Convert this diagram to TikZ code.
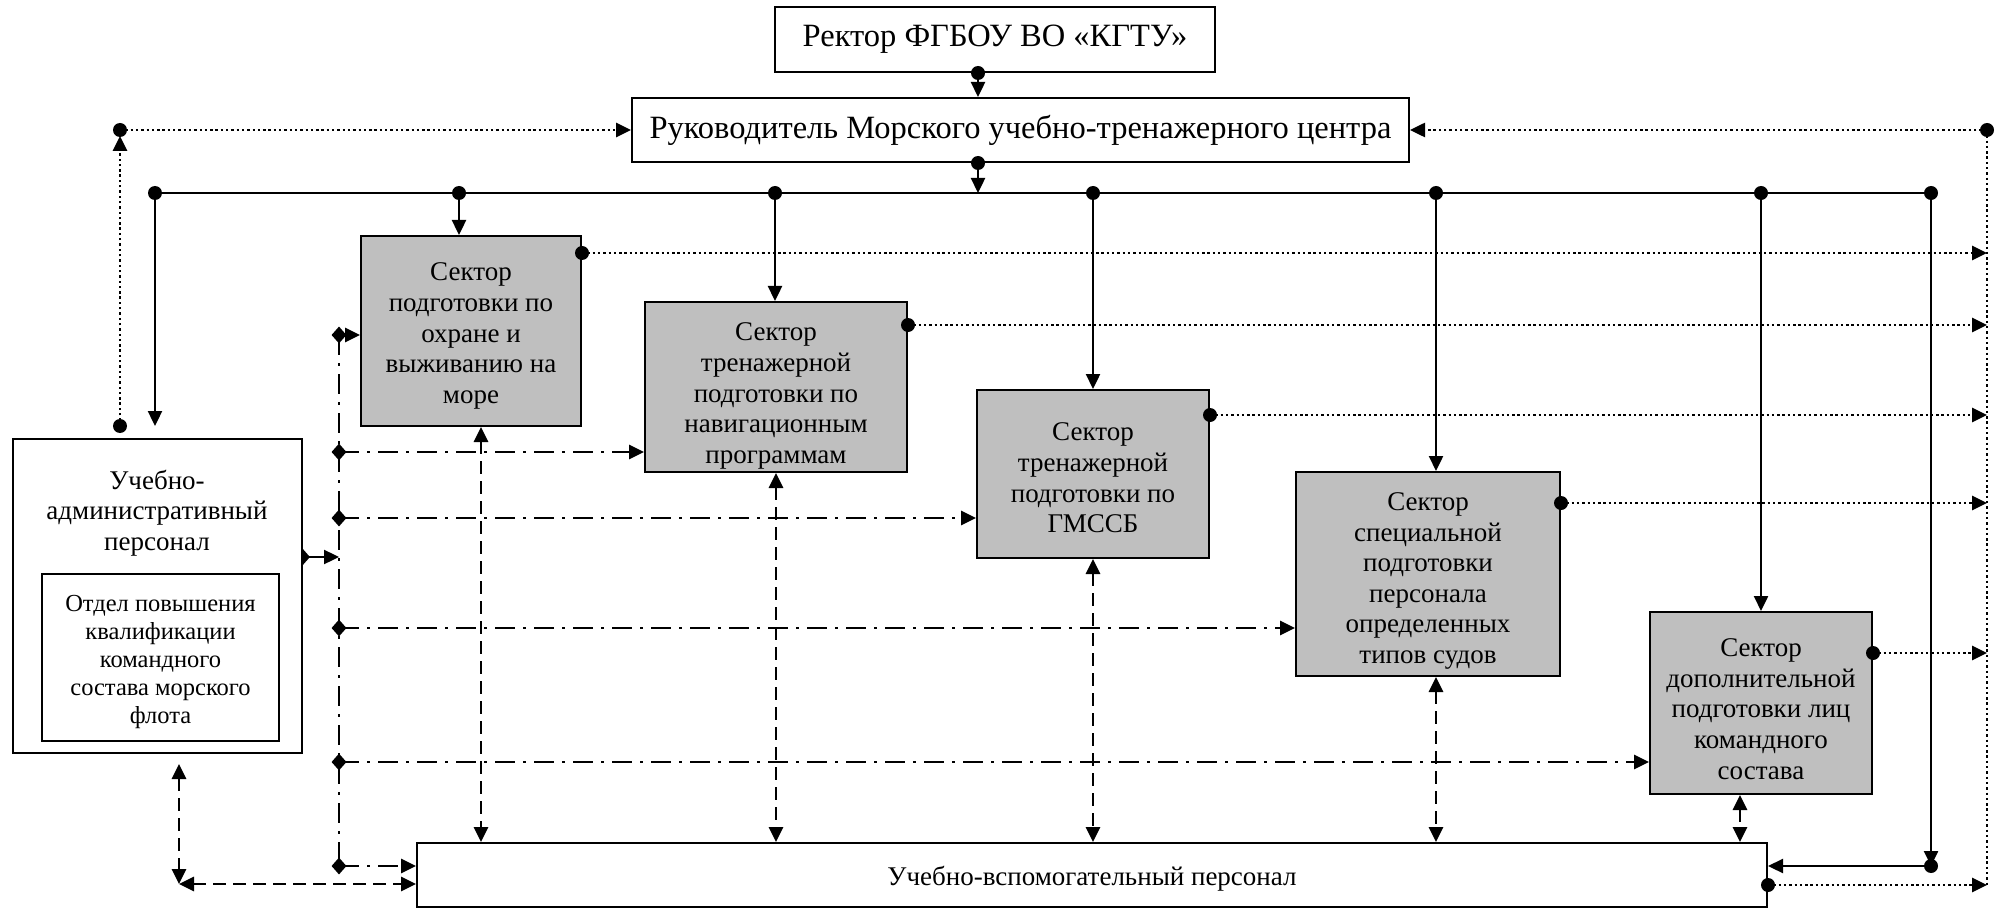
\documentclass[tikz,border=0pt]{standalone}
\usepackage{fontspec}
\setmainfont{Liberation Serif}
\usetikzlibrary{arrows.meta,shapes.geometric,calc}
\definecolor{secgray}{RGB}{191,191,191}
\begin{document}
\begin{tikzpicture}[x=1pt,y=-1pt,
  box/.style={draw, line width=2pt, inner sep=0pt, align=center, font=\fontsize{27}{30.6}\selectfont},
  sec/.style={box, fill=secgray},
  txt/.style={align=center, inner sep=0pt, font=\fontsize{27}{30.6}\selectfont},
  tip/.style={-{Triangle[length=15pt,width=14pt]}},
  solidc/.style={line width=2.4pt, tip},
  dotline/.style={line width=2.6pt, dash pattern=on 2.4pt off 2.9pt},
  dotc/.style={dotline, tip},
  dashc/.style={line width=2.8pt, dash pattern=on 13pt off 7pt, {Triangle[length=15pt,width=14pt]}-{Triangle[length=15pt,width=14pt]}},
  ddline/.style={line width=2.8pt, dash pattern=on 20pt off 8pt on 3pt off 8pt},
  ddc/.style={ddline, tip},
  dia/.style={diamond, fill=black, minimum width=15pt, minimum height=17pt, inner sep=0pt},
]
\useasboundingbox (0,0) rectangle (1997,909);

% boxes
\node[box, minimum width=440, minimum height=65, font=\fontsize{32.5}{36}\selectfont] (rector) at (995,39.5) {Ректор ФГБОУ ВО «КГТУ»};
\node[box, minimum width=777, minimum height=64, font=\fontsize{32.5}{36}\selectfont] (ruk) at (1020.5,130) {Руководитель Морского учебно-тренажерного центра};

\node[box, fill=white, minimum width=289, minimum height=314] (uap) at (157,596) {};
\node[txt] (uapt) at (157,513) {Учебно-\\административный\\персонал};
\node[box, minimum width=237, minimum height=167] (otdel) at (160.5,657.5) {};
\node[txt, font=\fontsize{24.5}{28}\selectfont] (otdelt) at (160.5,662) {Отдел повышения\\квалификации\\командного\\состава морского\\флота};

\node[sec, minimum width=220, minimum height=190] (s1) at (471,331) {};
\node[txt] (s1t) at (471,336) {Сектор\\подготовки по\\охране и\\выживанию на\\море};
\node[sec, minimum width=262, minimum height=170] (s2) at (776,387) {};
\node[txt] (s2t) at (776,396) {Сектор\\тренажерной\\подготовки по\\навигационным\\программам};
\node[sec, minimum width=232, minimum height=168] (s3) at (1093,474) {};
\node[txt] (s3t) at (1093,478) {Сектор\\тренажерной\\подготовки по\\ГМССБ};
\node[sec, minimum width=264, minimum height=204] (s5) at (1428,574) {};
\node[txt] (s5t) at (1428,581) {Сектор\\специальной\\подготовки\\персонала\\определенных\\типов судов};
\node[sec, minimum width=222, minimum height=182] (s6) at (1761,703) {};
\node[txt] (s6t) at (1761,709) {Сектор\\дополнительной\\подготовки лиц\\командного\\состава};
\node[box, minimum width=1350, minimum height=64] (bot) at (1092,875) {};
\node[txt] (bott) at (1092,879) {Учебно-вспомогательный персонал};

% bus
\coordinate (j0) at (155,193);
\coordinate (j1) at (459,193);
\coordinate (j2) at (775,193);
\coordinate (j3) at (1093,193);
\coordinate (j5) at (1436,193);
\coordinate (j6) at (1761,193);
\coordinate (j7) at (1931,193);
\coordinate (jr) at (978,193);
\draw[line width=2.4pt] (j0) -- (j7);
\foreach \p in {j0,j1,j2,j3,j5,j6,j7} \fill (\p) circle[radius=7pt];

\fill (rector.south -| jr) circle[radius=7pt];
\draw[solidc] (rector.south -| jr) -- (ruk.north -| jr);
\fill (ruk.south -| jr) circle[radius=7pt];
\draw[solidc] (ruk.south -| jr) -- (jr);

\draw[solidc, shorten >=12pt] (j0) -- (j0 |- uap.north);
\draw[solidc] (j1) -- (j1 |- s1.north);
\draw[solidc] (j2) -- (j2 |- s2.north);
\draw[solidc] (j3) -- (j3 |- s3.north);
\draw[solidc] (j5) -- (j5 |- s5.north);
\draw[solidc] (j6) -- (j6 |- s6.north);

% right vertical solid to bottom box
\coordinate (rk) at (1931,866);
\draw[solidc] (j7) -- (rk);
\fill (rk) circle[radius=7pt];
\draw[solidc] (rk) -- (rk -| bot.east);

% dotted connections
\coordinate (lt) at (120,130);
\coordinate (rt) at (1987,130);
\coordinate (lb) at ($(lt |- uap.north)+(0,-12)$);
\fill (lb) circle[radius=7pt];
\draw[dotc, shorten >=6pt] (lb) -- (lt);
\fill (lt) circle[radius=7pt];
\draw[dotc] (lt) -- (ruk.west);
\fill (rt) circle[radius=7pt];
\draw[dotc] (rt) -- (ruk.east);
\coordinate (rb) at (1987,886);
\draw[dotline] (rt) -- (rb);

\coordinate (o1) at ($(s1.north east)+(0,18)$);
\coordinate (o2) at ($(s2.north east)+(0,24)$);
\coordinate (o3) at ($(s3.north east)+(0,26)$);
\coordinate (o5) at ($(s5.north east)+(0,32)$);
\coordinate (o6) at ($(s6.north east)+(0,42)$);
\coordinate (o7) at ($(bot.south east)+(0,-23)$);
\foreach \p in {o1,o2,o3,o5,o6,o7} {
  \fill (\p) circle[radius=7pt];
  \draw[dotc] (\p) -- (\p -| rt);
}

% dash-dot distribution
\coordinate (r1) at (339,335);
\coordinate (r2) at (339,452);
\coordinate (r3) at (339,518);
\coordinate (r5) at (339,628);
\coordinate (r6) at (339,762);
\coordinate (r7) at (339,866);
\draw[ddline, line width=2pt] (r1) -- (r7);
\draw[ddc] (r1) -- (r1 -| s1.west);
\draw[ddc] (r2) -- (r2 -| s2.west);
\draw[ddc] (r3) -- (r3 -| s3.west);
\draw[ddc] (r5) -- (r5 -| s5.west);
\draw[ddc] (r6) -- (r6 -| s6.west);
\draw[ddc] (r7) -- (r7 -| bot.west);
\foreach \p in {r1,r2,r3,r5,r6,r7} \node[dia] at (\p) {};

\coordinate (la) at ($(uap.north east)+(0,119)$);
\draw[solidc] (la) -- (la -| r1);
\begin{scope}
  \clip (uap.north east) rectangle ($(uap.south east)+(20,0)$);
  \node[dia] at (la) {};
\end{scope}

% dashed double arrows
\coordinate (c481) at (481,0);
\coordinate (c1740) at (1740,0);
\draw[dashc] (c481 |- s1.south) -- (c481 |- bot.north);
\draw[dashc] (s2.south) -- (s2.south |- bot.north);
\draw[dashc] (s3.south) -- (s3.south |- bot.north);
\draw[dashc] (j5 |- s5.south) -- (j5 |- bot.north);
\draw[dashc] (c1740 |- s6.south) -- (c1740 |- bot.north);
\coordinate (lc) at (179,884);
\draw[dashc, shorten <=10pt] (lc |- uap.south) -- (lc);
\draw[dashc] (lc) -- (bot.west |- lc);
\end{tikzpicture}
\end{document}
